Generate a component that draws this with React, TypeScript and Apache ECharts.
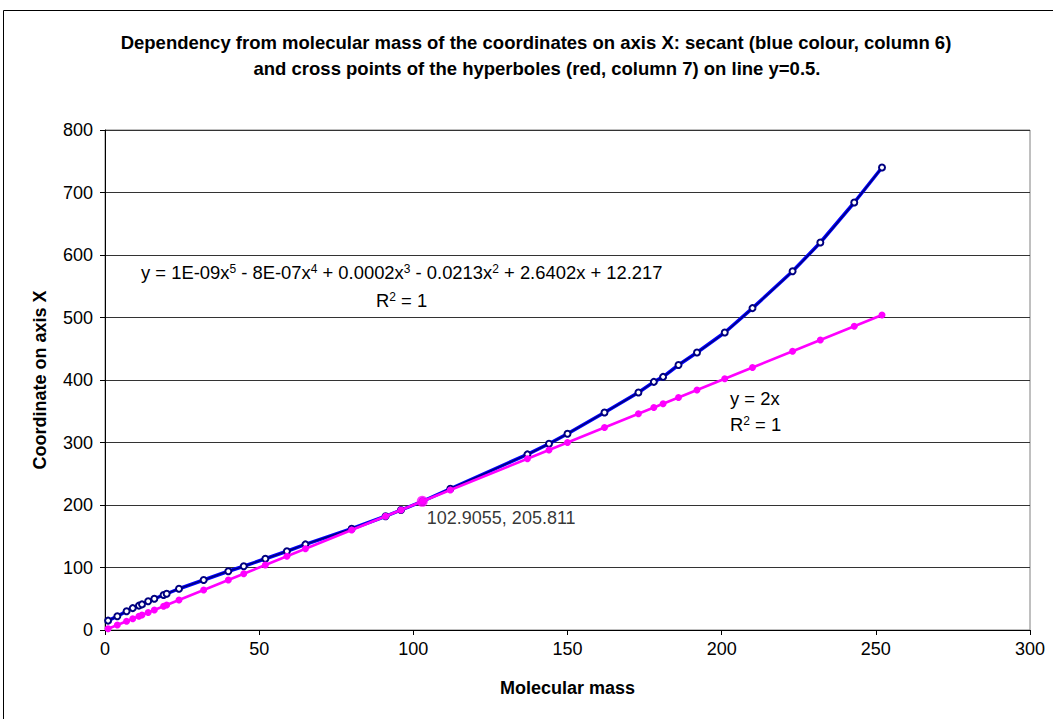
import React, { useEffect, useRef } from "react";
import * as echarts from "echarts";

const massX = [1, 4, 7, 9, 11, 12, 14, 16, 19, 20, 24, 32, 40, 45, 52, 59, 65, 80, 91, 96, 103, 112, 137, 144, 150, 162, 173, 178, 181, 186, 192, 201, 210, 223, 232, 243, 252];
const secantCol6 = [15, 22, 30, 35, 39, 41, 46, 50, 56, 58, 66, 80, 94, 102, 114, 126, 137, 162, 182, 192, 206, 226, 281, 298, 314, 348, 380, 397, 405, 424, 444, 476, 515, 574, 620, 684, 740];
const crossCol7 = [2, 8, 14, 18, 22, 24, 28, 32, 38, 40, 48, 64, 80, 90, 104, 118, 130, 160, 182, 192, 206, 224, 274, 288, 300, 324, 346, 356, 362, 372, 384, 402, 420, 446, 464, 486, 504];
const crossPoint = [102.9055, 205.811];

const titleLines = [
  "Dependency from molecular mass of the coordinates on axis X: secant (blue colour, column 6)",
  "and cross points of the hyperboles (red, column 7) on line y=0.5.",
];
const xName = "Molecular mass";
const yName = "Coordinate on axis X";

const FONT = "'Liberation Sans', Arial, sans-serif";

export default function App() {
  const ref = useRef<HTMLDivElement>(null);
  useEffect(() => {
    if (!ref.current) return;
    const chart = echarts.init(ref.current, null, { renderer: "svg" });
    const pair = (ys: number[]) => massX.map((x, i) => [x, ys[i]]);
    const supRich = {
      sup: { fontSize: 12, fontFamily: FONT, color: "#000", verticalAlign: "top" },
    };
    chart.setOption({
      animation: false,
      backgroundColor: "#fff",
      textStyle: { fontFamily: FONT },
      grid: {
        left: 105,
        top: 130,
        right: 23,
        bottom: 89,
        show: true,
        borderColor: "#808080",
        borderWidth: 1,
        backgroundColor: "transparent",
      },
      xAxis: {
        type: "value",
        min: 0,
        max: 300,
        interval: 50,
        name: xName,
        nameLocation: "middle",
        nameGap: 49,
        nameTextStyle: { fontSize: 18, fontWeight: "bold", color: "#000", fontFamily: FONT },
        axisLine: { lineStyle: { color: "#000", width: 1 } },
        axisTick: { show: true, length: 5, lineStyle: { color: "#000" } },
        axisLabel: { fontSize: 18, color: "#000", margin: 10, fontFamily: FONT },
        splitLine: { show: false },
      },
      yAxis: {
        type: "value",
        min: 0,
        max: 800,
        interval: 100,
        name: yName,
        nameLocation: "middle",
        nameGap: 56,
        nameTextStyle: { fontSize: 18, fontWeight: "bold", color: "#000", fontFamily: FONT },
        axisLine: { show: true, lineStyle: { color: "#000", width: 1 } },
        axisTick: { show: true, length: 5, lineStyle: { color: "#000" } },
        axisLabel: { fontSize: 18, color: "#000", margin: 12, fontFamily: FONT },
        splitLine: { show: true, lineStyle: { color: "#333", width: 1 } },
      },
      series: [
        {
          type: "line",
          name: "column 6 data",
          data: pair(secantCol6),
          showSymbol: false,
          lineStyle: { color: "#0000ff", width: 3.5 },
          z: 2,
        },
        {
          type: "line",
          name: "column 6 trend",
          data: pair(secantCol6),
          smooth: 0.3,
          symbol: "emptyCircle",
          symbolSize: 6,
          itemStyle: { color: "#000080", borderWidth: 1.5 },
          lineStyle: { color: "#000080", width: 1.5 },
          z: 3,
        },
        {
          type: "line",
          name: "column 7",
          data: pair(crossCol7),
          symbol: "circle",
          symbolSize: 7,
          itemStyle: { color: "#ff00ff" },
          lineStyle: { color: "#ff00ff", width: 2.5 },
          z: 4,
        },
        {
          type: "scatter",
          name: "cross",
          data: [crossPoint],
          symbolSize: 11,
          itemStyle: { color: "#ff00ff" },
          z: 5,
          label: {
            show: true,
            position: [10, 22],
            align: "left",
            verticalAlign: "middle",
            fontSize: 18,
            color: "#000",
            fontFamily: FONT,
            formatter: (p: any) => `${p.value[0]}, ${p.value[1]}`,
          },
        },
      ],
      graphic: [
        {
          type: "rect",
          shape: { x: 3.5, y: 10.5, width: 1200, height: 900 },
          style: { fill: "none", stroke: "#000", lineWidth: 1 },
          silent: true,
          z: 100,
        },
        {
          type: "text",
          x: 536,
          y: 42,
          style: {
            text: titleLines[0],
            font: `bold 18.5px ${FONT}`,
            fill: "#000",
            align: "center",
            verticalAlign: "middle",
          },
        },
        {
          type: "text",
          x: 537,
          y: 68,
          style: {
            text: titleLines[1],
            font: `bold 18.5px ${FONT}`,
            fill: "#000",
            align: "center",
            verticalAlign: "middle",
          },
        },
        {
          type: "text",
          x: 141,
          y: 272,
          style: {
            text: "y = 1E-09x{sup|5} - 8E-07x{sup|4} + 0.0002x{sup|3} - 0.0213x{sup|2} + 2.6402x + 12.217",
            font: `18.4px ${FONT}`,
            fontSize: 18.4,
            fontFamily: FONT,
            fill: "#000",
            align: "left",
            verticalAlign: "middle",
            rich: supRich,
          },
        },
        {
          type: "text",
          x: 376,
          y: 300,
          style: {
            text: "R{sup|2} = 1",
            font: `18.4px ${FONT}`,
            fontSize: 18.4,
            fontFamily: FONT,
            fill: "#000",
            align: "left",
            verticalAlign: "middle",
            rich: supRich,
          },
        },
        {
          type: "text",
          x: 730,
          y: 398,
          style: {
            text: "y = 2x",
            font: `18.4px ${FONT}`,
            fill: "#000",
            align: "left",
            verticalAlign: "middle",
          },
        },
        {
          type: "text",
          x: 730,
          y: 424,
          style: {
            text: "R{sup|2} = 1",
            font: `18.4px ${FONT}`,
            fontSize: 18.4,
            fontFamily: FONT,
            fill: "#000",
            align: "left",
            verticalAlign: "middle",
            rich: supRich,
          },
        },
      ],
    });
    return () => chart.dispose();
  }, []);
  return (
    <div
      ref={ref}
      style={{ position: "absolute", left: 0, top: 0, width: 1053, height: 719, background: "#fff" }}
    />
  );
}
